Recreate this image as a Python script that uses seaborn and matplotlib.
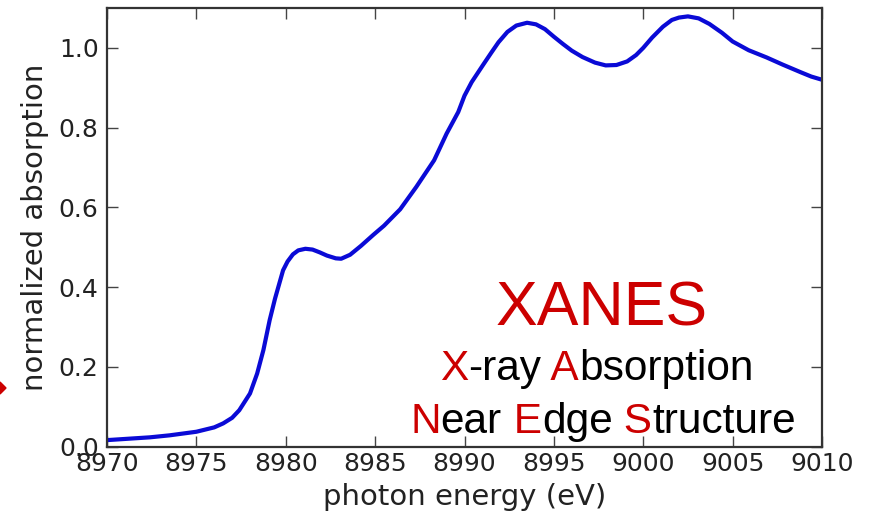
import matplotlib
matplotlib.use("Agg")
import matplotlib.pyplot as plt
from matplotlib.patches import Polygon
import seaborn as sns
import pandas as pd

# ---- data ----
energy = [8970.0, 8972.4, 8973.5, 8975.0, 8976.0, 8976.5, 8977.0, 8977.4, 8978.0,
          8978.4, 8978.75, 8979.1, 8979.4, 8979.85, 8980.1, 8980.4, 8980.7, 8981.1,
          8981.5, 8981.9, 8982.3, 8982.8, 8983.1, 8983.6, 8984.2, 8984.9, 8985.5,
          8986.4, 8987.3, 8988.3, 8989.0, 8989.65, 8990.0, 8990.4, 8991.05, 8991.5,
          8991.9, 8992.4, 8992.9, 8993.5, 8994.0, 8994.5, 8995.0, 8995.5, 8996.0,
          8996.6, 8997.3, 8997.9, 8998.5, 8999.1, 8999.6, 9000.0, 9000.5, 9001.1,
          9001.6, 9002.0, 9002.5, 9003.1, 9003.7, 9004.4, 9005.0, 9005.9, 9006.9,
          9007.8, 9008.8, 9009.4, 9010.0]
absorption = [0.016, 0.023, 0.028, 0.037, 0.048, 0.058, 0.072, 0.091, 0.133,
              0.183, 0.242, 0.317, 0.371, 0.442, 0.464, 0.482, 0.492, 0.496,
              0.494, 0.487, 0.479, 0.472, 0.471, 0.481, 0.503, 0.531, 0.554,
              0.595, 0.651, 0.718, 0.785, 0.839, 0.880, 0.914, 0.958, 0.988,
              1.014, 1.040, 1.056, 1.063, 1.059, 1.047, 1.028, 1.010, 0.993,
              0.977, 0.963, 0.956, 0.957, 0.966, 0.982, 1.000, 1.026, 1.053,
              1.070, 1.076, 1.079, 1.074, 1.060, 1.038, 1.016, 0.994, 0.976,
              0.958, 0.939, 0.928, 0.920]

x_ticks = [8970, 8975, 8980, 8985, 8990, 8995, 9000, 9005, 9010]
y_ticks = [0.0, 0.2, 0.4, 0.6, 0.8, 1.0]
x_label = "photon energy (eV)"
y_label = "normalized absorption"
title_text = "XANES"
line2_parts = [("X", "red"), ("-ray", "black"), (" A", "red"), ("bsorption", "black")]
line3_parts = [("N", "red"), ("ear", "black"), (" E", "red"), ("dge", "black"),
               (" S", "red"), ("tructure", "black")]

# ---- style ----
sns.set_style("ticks")
plt.rcParams["font.family"] = ["DejaVu Sans"]

W, H = 869, 515
fig = plt.figure(figsize=(W / 100, H / 100), dpi=100)
ax = fig.add_axes([107 / W, 1 - 446.5 / H, (822 - 107) / W, (446.5 - 8) / H])

df = pd.DataFrame({"energy": energy, "absorption": absorption})
sns.lineplot(data=df, x="energy", y="absorption", ax=ax, color="#0a0ad6",
             linewidth=3.0, sort=False, estimator=None)

ax.set_xlim(8970, 9010)
ax.set_ylim(0, 1.1)
ax.set_xticks(x_ticks)
ax.set_yticks(y_ticks)
ax.set_xticklabels([str(t) for t in x_ticks])
ax.set_yticklabels([f"{t:.1f}" for t in y_ticks])

tick_col = "#222222"
ax.tick_params(axis="both", which="major", direction="in", length=8, width=1.0,
               colors="#444444", labelcolor=tick_col, labelsize=18,
               top=True, right=True)
ax.tick_params(axis="x", pad=4)
ax.tick_params(axis="y", pad=6)
for s in ax.spines.values():
    s.set_visible(True)
    s.set_color("#333333")
    s.set_linewidth(1.6)

ax.set_xlabel(x_label, fontsize=21, color=tick_col, labelpad=5)
ax.set_ylabel(y_label, fontsize=21, color=tick_col, labelpad=7)

# ---- annotations ----
red = "#cc0000"
sans = ["Liberation Sans", "DejaVu Sans"]
fig.text(601.7 / W, 1 - 325 / H, title_text, color=red, fontsize=45,
         family=sans, ha="center", va="baseline")


def colored_line(parts, x0, yb, size):
    prev = None
    for txt, col in parts:
        c = red if col == "red" else "black"
        if prev is None:
            prev = fig.text(x0 / W, 1 - yb / H, txt, color=c, fontsize=size,
                            family=sans, ha="left", va="baseline")
        else:
            prev = fig.add_artist(plt.Annotation(
                txt, xy=(1, 1 - yb / H), xycoords=(prev, "figure fraction"),
                color=c, fontsize=size, family=sans, ha="left", va="baseline"))


colored_line(line2_parts, 440, 380, 30.5)
colored_line(line3_parts, 410, 433, 30.5)

# small red arrow head at the left edge
fig.patches.append(Polygon([[0 / W, 1 - 382 / H], [6 / W, 1 - 388 / H], [0 / W, 1 - 394 / H]],
                           closed=True, transform=fig.transFigure, color=red))

fig.savefig("out.png", dpi=100)
